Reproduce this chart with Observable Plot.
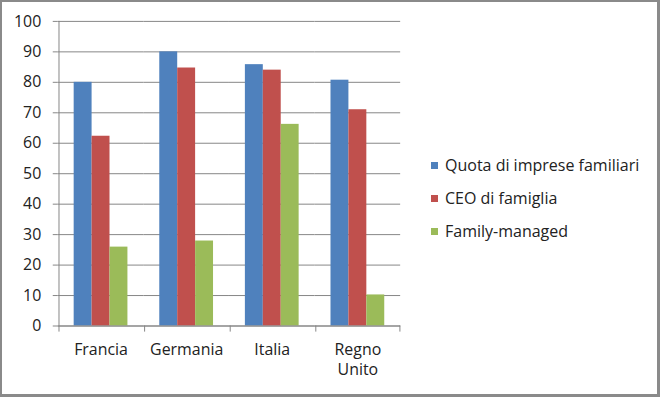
<!DOCTYPE html>
<html>
<head>
<meta charset="utf-8">
<script src="https://cdn.jsdelivr.net/npm/d3@7"></script>
<script src="https://cdn.jsdelivr.net/npm/@observablehq/plot@0.6"></script>
<style>
  html, body { margin: 0; padding: 0; background: #fff; }
  #wrap { position: relative; width: 660px; height: 397px; box-sizing: border-box;
    border-top: 2px solid #8a8a8a; border-left: 2px solid #8a8a8a;
    border-right: 3px solid #8a8a8a; border-bottom: 3px solid #8a8a8a; overflow: hidden; font-family: "Open Sans", sans-serif; }
  #chart { position: absolute; left: -2px; top: -2px; }
  #legend { position: absolute; left: 429px; top: 0; font-size: 16px; color: #222; }
  .item { position: absolute; left: 0; white-space: nowrap; display: flex; align-items: center; height: 22px; }
  .sw { width: 7px; height: 7px; margin-right: 7px; }
</style>
</head>
<body>
<div id="wrap"><div id="chart"></div><div id="legend"></div></div>
<script>
const countries = ["Francia", "Germania", "Italia", "Regno Unito"];
const countryLabels = ["Francia", "Germania", "Italia", "Regno\nUnito"];
const series = ["Quota di imprese familiari", "CEO di famiglia", "Family-managed"];
const colors = ["#4F81BD", "#C0504D", "#9BBB59"];
const quota = [80, 90, 85.8, 80.7];
const ceo = [62.3, 84.7, 84, 71];
const managed = [25.9, 27.9, 66.2, 10.2];
const yTicks = [0, 10, 20, 30, 40, 50, 60, 70, 80, 90, 100];

const valuesBySeries = [quota, ceo, managed];
const data = [];
countries.forEach((c, i) => series.forEach((s, j) => data.push({country: c, series: s, value: valuesBySeries[j][i]})));

const gray = "#868686";
const paddingOuter = 0.776;
const mLeft = 57, mRight = 257;
const facetWidth = (660 - mLeft - mRight) / countries.length;
const step = facetWidth / (series.length + 2 * paddingOuter);
const edgeOffset = step * paddingOuter + step / 2;

const chart = Plot.plot({
  width: 660,
  height: 397,
  marginLeft: mLeft,
  marginRight: mRight,
  marginTop: 21,
  marginBottom: 70,
  style: {fontFamily: "'Open Sans', sans-serif", fontSize: "16px", color: "#222", background: "transparent"},
  fx: {domain: countries, padding: 0, label: null},
  x: {domain: series, paddingInner: 0, paddingOuter: paddingOuter, axis: null},
  y: {domain: [0, 100], label: null},
  color: {domain: series, range: colors},
  marks: [
    Plot.gridY(yTicks, {stroke: gray, strokeOpacity: 1, strokeWidth: 1}),
    Plot.barY(data, {fx: "country", x: "series", y: "value", fill: "series"}),
    Plot.ruleY([0], {stroke: gray, strokeWidth: 1}),
    Plot.ruleX(countries, {fx: d => d, x: () => series[0], dx: -edgeOffset, y1: 0, y2: -2, stroke: gray}),
    Plot.ruleX([countries[countries.length - 1]], {fx: d => d, x: () => series[series.length - 1], dx: edgeOffset, y1: 0, y2: -2, stroke: gray}),
    Plot.ruleX([countries[0]], {fx: d => d, x: () => series[0], dx: -edgeOffset, y1: 0, y2: 100, stroke: gray}),
    Plot.axisY(yTicks, {tickSize: 5, tickPadding: 12, stroke: gray, fontSize: 16, fill: "#222", label: null}),
    Plot.axisFx({anchor: "bottom", tickSize: 0, tickPadding: 14, fontSize: 16, fill: "#222", lineHeight: 1.3, label: null,
      tickFormat: d => countryLabels[countries.indexOf(d)]})
  ]
});
document.getElementById("chart").appendChild(chart);

const legend = document.getElementById("legend");
const rowTops = [152, 185, 218];
series.forEach((s, i) => {
  const it = document.createElement("div");
  it.className = "item";
  it.style.top = rowTops[i] + "px";
  it.innerHTML = `<span class="sw" style="background:${colors[i]}"></span><span>${s}</span>`;
  legend.appendChild(it);
});
</script>
</body>
</html>
